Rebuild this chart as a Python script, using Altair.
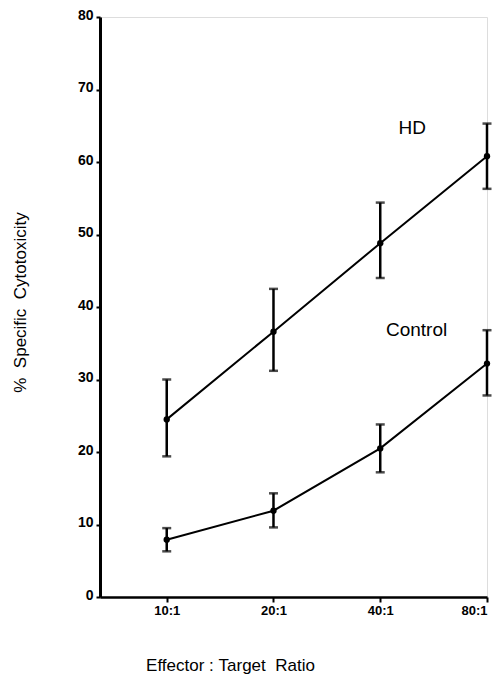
import altair as alt
import pandas as pd

ratios = ["10:1", "20:1", "40:1", "80:1"]
positions = [1, 2, 3, 4]
hd_mean = [24.5, 36.6, 48.8, 60.8]
hd_upper = [30.0, 42.5, 54.4, 65.3]
hd_lower = [19.4, 31.2, 44.0, 56.3]
ctrl_mean = [7.9, 11.9, 20.5, 32.2]
ctrl_upper = [9.5, 14.3, 23.8, 36.8]
ctrl_lower = [6.3, 9.6, 17.2, 27.8]

label_text = ["HD", "Control"]
label_x = [3.3, 3.34]
label_y = [64.7, 36.8]

x_title = "Effector\u00a0:\u00a0Target\u00a0\u00a0Ratio"
y_title = "%\u00a0\u00a0Specific\u00a0\u00a0Cytotoxicity"

rows = []
for g, m, u, l in [("HD", hd_mean, hd_upper, hd_lower), ("Control", ctrl_mean, ctrl_upper, ctrl_lower)]:
    for p, r, mm, uu, ll in zip(positions, ratios, m, u, l):
        rows.append({"group": g, "pos": p, "ratio": r, "mean": mm, "upper": uu, "lower": ll})
df = pd.DataFrame(rows)
labels = pd.DataFrame({"text": label_text, "x": label_x, "y": label_y})

label_expr = "datum.value == 1 ? '10:1' : datum.value == 2 ? '20:1' : datum.value == 3 ? '40:1' : '80:1'"

x = alt.X("pos:Q", scale=alt.Scale(domain=[0.375, 4.0], nice=False, zero=False),
          axis=alt.Axis(values=positions, labelExpr=label_expr, title=x_title,
                        grid=False, domainColor="black", domainWidth=2.5, tickColor="black",
                        tickWidth=2, tickSize=5, labelFont="Liberation Sans", labelFontWeight="bold",
                        labelFontSize=13, labelColor="black", labelPadding=2,
                        titleFont="Liberation Sans", titleFontWeight="normal", titleFontSize=17,
                        titleColor="black", titleX=130, titleY=73, titleAlign="center",
                        titleBaseline="alphabetic"))
y = alt.Y("mean:Q", scale=alt.Scale(domain=[0, 80], nice=False),
          axis=alt.Axis(values=[0, 10, 20, 30, 40, 50, 60, 70, 80], title=y_title,
                        grid=False, domainColor="black", domainWidth=3, tickColor="black",
                        tickWidth=2, tickSize=4, labelFont="Liberation Sans", labelFontWeight="bold",
                        labelFontSize=14, labelColor="black", labelPadding=3,
                        labelBaseline="alphabetic", labelOffset=2,
                        titleFont="Liberation Sans", titleFontWeight="normal", titleFontSize=17,
                        titleColor="black", titleX=-80, titleY=285, titleAngle=270,
                        titleAlign="center", titleBaseline="middle"))

base = alt.Chart(df)
lines = base.mark_line(color="black", strokeWidth=2).encode(x=x, y=y, detail="group:N")
points = base.mark_circle(color="black", size=40, opacity=1).encode(x=x, y=y)
rules = base.mark_rule(color="black", strokeWidth=2.5).encode(x=x, y="upper:Q", y2="lower:Q")
cap_u = base.mark_tick(color="black", orient="horizontal", size=9, thickness=2.5).encode(x=x, y="upper:Q")
cap_l = base.mark_tick(color="black", orient="horizontal", size=9, thickness=2.5).encode(x=x, y="lower:Q")
texts = alt.Chart(labels).mark_text(font="Liberation Sans", fontSize=19, color="black").encode(
    x="x:Q", y="y:Q", text="text:N")

chart = alt.layer(lines, rules, cap_u, cap_l, points, texts).properties(
    width=387, height=580,
    autosize=alt.AutoSizeParams(type="none"),
    padding={"left": 92, "top": 9, "right": 6, "bottom": 78},
).configure_view(stroke=None).configure(background="white")

chart.save("out.html", embed_options={"renderer": "svg", "actions": False})
